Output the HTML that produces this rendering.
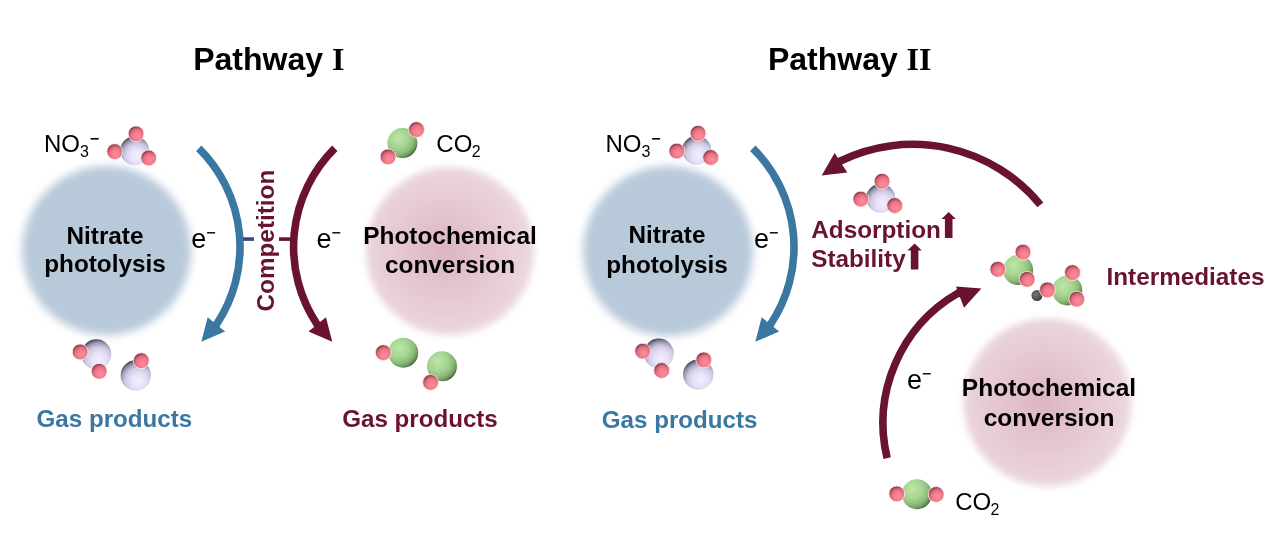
<!DOCTYPE html>
<html><head><meta charset="utf-8"><style>html,body{margin:0;padding:0;background:#fff;}svg{display:block;will-change:transform;}</style></head>
<body><svg width="1280" height="555" viewBox="0 0 1280 555">
<defs>
<filter id="blur" x="-20%" y="-20%" width="140%" height="140%"><feGaussianBlur stdDeviation="4"/></filter>
<radialGradient id="gN" cx="0.58" cy="0.68" r="0.7">
<stop offset="0" stop-color="#f4eefe"/><stop offset="0.35" stop-color="#e6e1f7"/><stop offset="0.62" stop-color="#cdc9e3"/><stop offset="0.82" stop-color="#9895b0"/><stop offset="1" stop-color="#3c3a4e"/></radialGradient>
<radialGradient id="gO" cx="0.58" cy="0.64" r="0.64">
<stop offset="0" stop-color="#fd8e9c"/><stop offset="0.4" stop-color="#f47d8d"/><stop offset="0.66" stop-color="#e06c7e"/><stop offset="0.84" stop-color="#b44f60"/><stop offset="1" stop-color="#682838"/></radialGradient>
<radialGradient id="gC" cx="0.36" cy="0.34" r="0.72">
<stop offset="0" stop-color="#bde7a7"/><stop offset="0.45" stop-color="#a6d491"/><stop offset="0.72" stop-color="#8cba79"/><stop offset="0.87" stop-color="#6f9a60"/><stop offset="0.96" stop-color="#4a6c42"/><stop offset="1" stop-color="#2e4a2a"/></radialGradient>
<radialGradient id="gG" cx="0.4" cy="0.4" r="0.65">
<stop offset="0" stop-color="#7a7a7a"/><stop offset="1" stop-color="#3a3a3a"/></radialGradient>
<radialGradient id="gP" cx="0.47" cy="0.5" r="0.5">
<stop offset="0" stop-color="#dcb3c3"/><stop offset="0.4" stop-color="#e3c2cf"/><stop offset="0.8" stop-color="#e8cfd9"/><stop offset="1" stop-color="#ebd6df"/></radialGradient>
<filter id="blur2" x="-20%" y="-20%" width="140%" height="140%"><feGaussianBlur stdDeviation="3.6"/></filter>
</defs>
<rect width="1280" height="555" fill="#fff"/>
<circle cx="106.5" cy="250.5" r="84.5" fill="#b8c9da" filter="url(#blur)"/>
<circle cx="668" cy="251" r="85" fill="#b8c9da" filter="url(#blur)"/>
<circle cx="450" cy="251" r="84" fill="url(#gP)" filter="url(#blur2)"/>
<circle cx="1047.5" cy="402.4" r="84" fill="url(#gP)" filter="url(#blur2)"/>
<text x="193.2" y="70" font-family="Liberation Sans" font-size="32" font-weight="bold">Pathway <tspan font-family="Liberation Serif">I</tspan></text>
<text x="767.9" y="70" font-family="Liberation Sans" font-size="32" font-weight="bold">Pathway <tspan font-family="Liberation Serif">II</tspan></text>
<text x="44" y="152" font-family="Liberation Sans" font-size="24" font-weight="normal" fill="#000" text-anchor="start" >NO</text>
<text x="80.1" y="157.2" font-family="Liberation Sans" font-size="16" font-weight="normal" fill="#000" text-anchor="start" >3</text>
<rect x="90.6" y="138" width="8" height="1.6" fill="#000"/>
<text x="605.5" y="152" font-family="Liberation Sans" font-size="24" font-weight="normal" fill="#000" text-anchor="start" >NO</text>
<text x="641.6" y="157.2" font-family="Liberation Sans" font-size="16" font-weight="normal" fill="#000" text-anchor="start" >3</text>
<rect x="652.1" y="138" width="8" height="1.6" fill="#000"/>
<circle cx="134.7" cy="150.7" r="14.5" fill="url(#gN)"/>
<circle cx="136.1" cy="133.8" r="7.9" fill="url(#gO)" stroke="#fff3ee" stroke-width="0.8"/>
<circle cx="114.8" cy="151.6" r="7.9" fill="url(#gO)" stroke="#fff3ee" stroke-width="0.8"/>
<circle cx="148.7" cy="158" r="7.9" fill="url(#gO)" stroke="#fff3ee" stroke-width="0.8"/>
<circle cx="696.7" cy="150.2" r="14.5" fill="url(#gN)"/>
<circle cx="698.1" cy="133.3" r="7.9" fill="url(#gO)" stroke="#fff3ee" stroke-width="0.8"/>
<circle cx="676.8" cy="151.1" r="7.9" fill="url(#gO)" stroke="#fff3ee" stroke-width="0.8"/>
<circle cx="710.7" cy="157.5" r="7.9" fill="url(#gO)" stroke="#fff3ee" stroke-width="0.8"/>
<text x="191.3" y="248.2" font-family="Liberation Sans" font-size="27" font-weight="normal" fill="#000" text-anchor="start" >e</text>
<rect x="207.10000000000002" y="232.1" width="8" height="1.4" fill="#000"/>
<text x="316.5" y="248.2" font-family="Liberation Sans" font-size="27" font-weight="normal" fill="#000" text-anchor="start" >e</text>
<rect x="332.3" y="232.1" width="8" height="1.4" fill="#000"/>
<text x="754.1" y="248.2" font-family="Liberation Sans" font-size="27" font-weight="normal" fill="#000" text-anchor="start" >e</text>
<rect x="769.9" y="232.1" width="8" height="1.4" fill="#000"/>
<text x="907" y="389.2" font-family="Liberation Sans" font-size="27" font-weight="normal" fill="#000" text-anchor="start" >e</text>
<rect x="922.8" y="373.1" width="8" height="1.4" fill="#000"/>
<text x="105" y="244" font-family="Liberation Sans" font-size="24.3" font-weight="bold" fill="#000" text-anchor="middle" >Nitrate</text>
<text x="105" y="272.3" font-family="Liberation Sans" font-size="24.3" font-weight="bold" fill="#000" text-anchor="middle" >photolysis</text>
<text x="667" y="243.3" font-family="Liberation Sans" font-size="24.3" font-weight="bold" fill="#000" text-anchor="middle" >Nitrate</text>
<text x="667" y="273.1" font-family="Liberation Sans" font-size="24.3" font-weight="bold" fill="#000" text-anchor="middle" >photolysis</text>
<text x="450" y="244.3" font-family="Liberation Sans" font-size="24.4" font-weight="bold" fill="#000" text-anchor="middle" >Photochemical</text>
<text x="450" y="272.9" font-family="Liberation Sans" font-size="24.4" font-weight="bold" fill="#000" text-anchor="middle" >conversion</text>
<text x="1049" y="396.2" font-family="Liberation Sans" font-size="24.5" font-weight="bold" fill="#000" text-anchor="middle" >Photochemical</text>
<text x="1049" y="425.6" font-family="Liberation Sans" font-size="24.5" font-weight="bold" fill="#000" text-anchor="middle" >conversion</text>
<circle cx="402.4" cy="143.1" r="15" fill="url(#gC)"/>
<circle cx="416.5" cy="129.6" r="7.9" fill="url(#gO)" stroke="#fff3ee" stroke-width="0.8"/>
<circle cx="388.1" cy="156.9" r="7.9" fill="url(#gO)" stroke="#fff3ee" stroke-width="0.8"/>
<text x="436.3" y="152" font-family="Liberation Sans" font-size="24" font-weight="normal" fill="#000" text-anchor="start" >CO</text>
<text x="471.8" y="156.8" font-family="Liberation Sans" font-size="16" font-weight="normal" fill="#000" text-anchor="start" >2</text>
<circle cx="916.9" cy="494.2" r="15" fill="url(#gC)"/>
<circle cx="896.8" cy="493.9" r="7.9" fill="url(#gO)" stroke="#fff3ee" stroke-width="0.8"/>
<circle cx="936.2" cy="494.5" r="7.9" fill="url(#gO)" stroke="#fff3ee" stroke-width="0.8"/>
<text x="955.2" y="510" font-family="Liberation Sans" font-size="24" font-weight="normal" fill="#000" text-anchor="start" >CO</text>
<text x="990.5" y="515.2" font-family="Liberation Sans" font-size="16" font-weight="normal" fill="#000" text-anchor="start" >2</text>
<path d="M198.77,148.20 A139,139 0 0 1 216.37,324.53 L211.37,330.17" fill="none" stroke="#3a77a1" stroke-width="7.6"/>
<polygon points="201.35,341.8 207.65,317.2 225.1,331.5" fill="#3a77a1"/>
<path d="M334.83,148.20 A139,139 0 0 0 317.23,324.53 L322.23,330.17" fill="none" stroke="#6a1330" stroke-width="7.6"/>
<polygon points="332.25,341.8 325.95,317.2 308.5,331.5" fill="#6a1330"/>
<path d="M752.77,148.20 A139,139 0 0 1 770.37,324.53 L765.37,330.17" fill="none" stroke="#3a77a1" stroke-width="7.6"/>
<polygon points="755.35,341.8 761.65,317.2 779.1,331.5" fill="#3a77a1"/>
<rect x="243" y="237.3" width="11" height="3.6" fill="#38478a"/>
<rect x="279" y="237.3" width="11.5" height="3.6" fill="#6a1330"/>
<text x="0" y="0" transform="translate(274,240.6) rotate(-90)" font-family="Liberation Sans" font-size="24.3" font-weight="bold" fill="#6a1330" text-anchor="middle">Competition</text>
<circle cx="96.3" cy="354.3" r="15" fill="url(#gN)"/>
<circle cx="80.2" cy="352" r="7.9" fill="url(#gO)" stroke="#fff3ee" stroke-width="0.8"/>
<circle cx="99.2" cy="371.3" r="7.9" fill="url(#gO)" stroke="#fff3ee" stroke-width="0.8"/>
<circle cx="135.8" cy="375.4" r="15.2" fill="url(#gN)"/>
<circle cx="141.3" cy="360.7" r="7.9" fill="url(#gO)" stroke="#fff3ee" stroke-width="0.8"/>
<circle cx="658.8" cy="353.5" r="15" fill="url(#gN)"/>
<circle cx="642.7" cy="351.2" r="7.9" fill="url(#gO)" stroke="#fff3ee" stroke-width="0.8"/>
<circle cx="661.7" cy="370.5" r="7.9" fill="url(#gO)" stroke="#fff3ee" stroke-width="0.8"/>
<circle cx="698.3" cy="374.59999999999997" r="15.2" fill="url(#gN)"/>
<circle cx="703.8" cy="359.9" r="7.9" fill="url(#gO)" stroke="#fff3ee" stroke-width="0.8"/>
<circle cx="403.2" cy="352.7" r="15" fill="url(#gC)"/>
<circle cx="383.3" cy="352.6" r="7.9" fill="url(#gO)" stroke="#fff3ee" stroke-width="0.8"/>
<circle cx="442" cy="366.3" r="15" fill="url(#gC)"/>
<circle cx="430.6" cy="382.4" r="7.9" fill="url(#gO)" stroke="#fff3ee" stroke-width="0.8"/>
<text x="36.6" y="427.4" font-family="Liberation Sans" font-size="24.15" font-weight="bold" fill="#3a77a1" text-anchor="start" >Gas products</text>
<text x="342.2" y="427" font-family="Liberation Sans" font-size="24.15" font-weight="bold" fill="#6a1330" text-anchor="start" >Gas products</text>
<text x="601.8" y="427.8" font-family="Liberation Sans" font-size="24.15" font-weight="bold" fill="#3a77a1" text-anchor="start" >Gas products</text>
<path d="M1040.38,204.79 A165,165 0 0 0 840.37,161.00 L834.53,166.90" fill="none" stroke="#6a1330" stroke-width="7.6"/>
<polygon points="821.7,175.4 834.6,152.9 847.3,172.4" fill="#6a1330"/>
<circle cx="880.7" cy="198.2" r="14.5" fill="url(#gN)"/>
<circle cx="882.1" cy="181.3" r="7.9" fill="url(#gO)" stroke="#fff3ee" stroke-width="0.8"/>
<circle cx="860.8" cy="199.1" r="7.9" fill="url(#gO)" stroke="#fff3ee" stroke-width="0.8"/>
<circle cx="894.7" cy="205.5" r="7.9" fill="url(#gO)" stroke="#fff3ee" stroke-width="0.8"/>
<text x="811.3" y="237.9" font-family="Liberation Sans" font-size="24.3" font-weight="bold" fill="#6a1330" text-anchor="start" >Adsorption</text>
<text x="811.2" y="266.8" font-family="Liberation Sans" font-size="24.3" font-weight="bold" fill="#6a1330" text-anchor="start" >Stability</text>
<polygon points="948.7,211.9 955.9000000000001,218.9 952.5,218.9 952.5,238.0 944.9000000000001,238.0 944.9000000000001,218.9 941.5,218.9" fill="#6a1330"/>
<polygon points="914.6,243.4 921.8000000000001,250.4 918.4,250.4 918.4,269.5 910.8000000000001,269.5 910.8000000000001,250.4 907.4,250.4" fill="#6a1330"/>
<path d="M887.14,458.02 A150,150 0 0 1 957.77,293.23 L967.13,294.27" fill="none" stroke="#6a1330" stroke-width="7.6"/>
<polygon points="981.4,288.6 956,286.5 964,307.7" fill="#6a1330"/>
<circle cx="1018.1" cy="270.1" r="15" fill="url(#gC)"/>
<circle cx="1023" cy="252.2" r="7.9" fill="url(#gO)" stroke="#fff3ee" stroke-width="0.8"/>
<circle cx="997.8" cy="269.3" r="7.9" fill="url(#gO)" stroke="#fff3ee" stroke-width="0.8"/>
<circle cx="1027.2" cy="279.3" r="7.9" fill="url(#gO)" stroke="#fff3ee" stroke-width="0.8"/>
<circle cx="1037" cy="295.5" r="5.5" fill="url(#gG)"/>
<circle cx="1067.3" cy="290.4" r="15" fill="url(#gC)"/>
<circle cx="1072.5" cy="272.6" r="7.9" fill="url(#gO)" stroke="#fff3ee" stroke-width="0.8"/>
<circle cx="1047.4" cy="289.9" r="7.9" fill="url(#gO)" stroke="#fff3ee" stroke-width="0.8"/>
<circle cx="1076.8" cy="299.2" r="7.9" fill="url(#gO)" stroke="#fff3ee" stroke-width="0.8"/>
<text x="1106.5" y="284.8" font-family="Liberation Sans" font-size="24.3" font-weight="bold" fill="#6a1330" text-anchor="start" >Intermediates</text>
</svg></body></html>
